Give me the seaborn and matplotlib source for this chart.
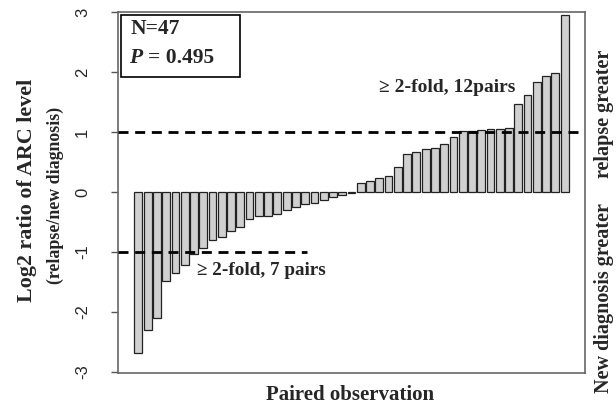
import numpy as np
import pandas as pd
import matplotlib
matplotlib.use("Agg")
import matplotlib.pyplot as plt
import seaborn as sns
from matplotlib.patches import Rectangle

# ---- data ----
log2_ratio = [
    -2.68, -2.31, -2.11, -1.48, -1.35, -1.22, -1.03, -0.93, -0.80, -0.75,
    -0.65, -0.58, -0.45, -0.41, -0.40, -0.37, -0.31, -0.26, -0.21, -0.18,
    -0.14, -0.09, -0.05, -0.02,
    0.15, 0.18, 0.23, 0.27, 0.42, 0.64, 0.67, 0.71, 0.74, 0.80,
    0.92, 1.01, 1.02, 1.04, 1.05, 1.05, 1.06, 1.47, 1.61, 1.84,
    1.94, 1.99, 2.95,
]
pair_index = list(range(len(log2_ratio)))
y_ticks = [-3, -2, -1, 0, 1, 2, 3]
fold_threshold = [1, -1]
n_label = "N=47"
p_value = "0.495"
upper_note = "≥ 2-fold, 12pairs"
lower_note = "≥ 2-fold, 7 pairs"

df = pd.DataFrame({"pair": pair_index, "ratio": log2_ratio})

sns.set_style("white")
serif = ["Liberation Serif", "DejaVu Serif"]
sans = ["Liberation Sans", "DejaVu Sans"]

W, H = 616, 409
fig = plt.figure(figsize=(W / 100, H / 100), dpi=100)
ax = fig.add_axes([118 / W, 1 - 373 / H, (585 - 118) / W, (373 - 12) / H])

sns.barplot(data=df, x="pair", y="ratio", ax=ax, color="#d0d0d0",
            edgecolor="#222222", linewidth=0.9, width=0.84, saturation=1)

ax.set_xlim(-2.2, len(log2_ratio) + 1.2)
ax.set_ylim(-3.02, 3.0)
ax.set_yticks(y_ticks)
ax.set_yticklabels([str(t) for t in y_ticks], rotation=90, va="center",
                   family=sans, fontsize=12)
ax.set_xticks([])
ax.set_xlabel("")
ax.set_ylabel("")
ax.tick_params(axis="y", which="both", left=True, length=5, width=1,
               color="#555555", pad=15)
for s in ax.spines.values():
    s.set_color("#666666")
    s.set_linewidth(1.2)

# threshold lines
ax.axhline(fold_threshold[0], xmin=0, xmax=0.993, color="black", lw=2,
           linestyle=(0, (3.6, 2.4)), zorder=5)
ax.axhline(fold_threshold[1], xmin=0, xmax=0.405, color="black", lw=2,
           linestyle=(0, (3.6, 2.4)), zorder=5)

# annotations
ax.text(26.0, 1.74, upper_note, family=serif, fontweight="bold", fontsize=14,
        ha="left", va="center")
ax.text(6.3, -1.31, lower_note, family=serif, fontweight="bold", fontsize=13.8,
        ha="left", va="center")

# stats box
ax.add_patch(Rectangle((0.0064, 0.820), 0.255, 0.172, transform=ax.transAxes,
                       facecolor="white", edgecolor="black", lw=1.2, zorder=6))
ax.text(0.026, 0.952, n_label, transform=ax.transAxes, family=serif,
        fontsize=15.5, fontweight="bold", ha="left", va="center", zorder=7)
ax.text(0.024, 0.872, "P", transform=ax.transAxes, family=serif,
        fontsize=15.5, fontweight="bold", style="italic", ha="left",
        va="center", zorder=7)
ax.text(0.064, 0.872, "= " + p_value, transform=ax.transAxes, family=serif,
        fontsize=15.5, fontweight="bold", ha="left", va="center", zorder=7)

# axis labels
fig.text(27 / W, 1 - 190 / H, "Log2 ratio of ARC level", rotation=90,
         family=serif, fontweight="bold", fontsize=15.8, ha="center", va="center")
fig.text(55 / W, 1 - 195 / H, "(relapse/new diagnosis)", rotation=90,
         family=serif, fontweight="bold", fontsize=12.9, ha="center", va="center")
fig.text(350 / W, 1 - 395 / H, "Paired observation", family=serif,
         fontweight="bold", fontsize=15, ha="center", va="center")
fig.text(604 / W, 1 - 298 / H, "New diagnosis greater", rotation=90,
         family=serif, fontweight="bold", fontsize=14.5, ha="center", va="center")
fig.text(604 / W, 1 - 114 / H, "relapse greater", rotation=90,
         family=serif, fontweight="bold", fontsize=14.5, ha="center", va="center")

fig.savefig("out.png", dpi=100)
